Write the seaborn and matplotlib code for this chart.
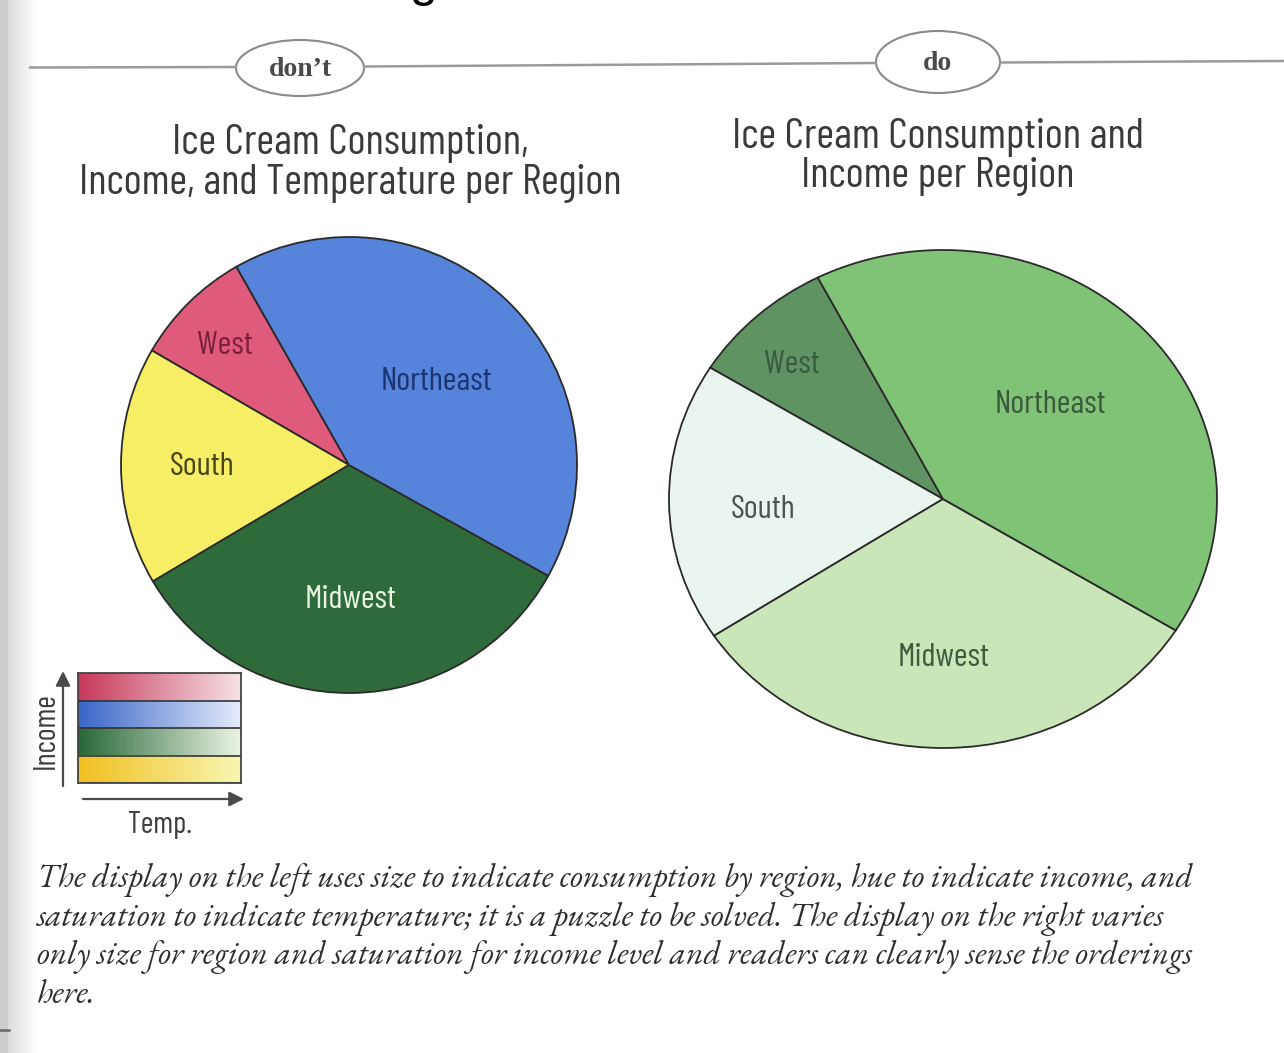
import numpy as np
import matplotlib
matplotlib.use("Agg")
import matplotlib.pyplot as plt
from matplotlib.patches import Ellipse
import seaborn as sns

sns.set_theme(style="white")

# ---- data ----
regions = ["West", "South", "Midwest", "Northeast"]
left_share = [8.4, 16.9, 33.4, 41.3]     # "don't" pie
right_share = [8.6, 18.1, 31.9, 41.4]    # "do" pie

left_colors = ["#e05a7c", "#f6ee64", "#2f6b3a", "#5584da"]
right_colors = ["#5f9462", "#eaf5ef", "#c9e6b8", "#80c276"]
left_text_colors = ["#7a2238", "#4a4418", "#e6f4e2", "#1d3470"]
right_text_colors = ["#3a5a40", "#4a5452", "#3c5c40", "#3a5a3c"]

left_title = ["Ice Cream Consumption,", "Income, and Temperature per Region"]
right_title = ["Ice Cream Consumption and", "Income per Region"]

# colour key: saturated (cold) -> washed out (hot), top row first
key_rows = ["West", "Northeast", "Midwest", "South"]
key_start = ["#c8385a", "#3a66c8", "#2a6836", "#f0c020"]
key_end = ["#f6e2e6", "#e4ecfa", "#eaf4e4", "#f8f6b0"]

caption_lines = [
    "The display on the left uses size to indicate consumption by region, hue to indicate income, and",
    "saturation to indicate temperature; it is a puzzle to be solved. The display on the right varies",
    "only size for region and saturation for income level and readers can clearly sense the orderings",
    "here.",
]

NARROW = ["Barlow Condensed", "Roboto Condensed", "DejaVu Sans"]
SERIF_IT = ["EB Garamond", "Liberation Serif", "DejaVu Serif"]
W, H = 1284, 1053


def fx(x):
    return x / W


def fy(y):
    return 1 - y / H


def rect(x0, y0, x1, y1):
    return [fx(x0), fy(y1), (x1 - x0) / W, (y1 - y0) / H]


fig = plt.figure(figsize=(W / 100, H / 100), dpi=100)
fig.patch.set_facecolor("white")

# scanned page gutter on the left
bg = fig.add_axes([0, 0, 1, 1], zorder=-5)
bg.set_axis_off()
grad = np.ones((2, W))
grad[:, :8] = 0.80
grad[:, 8:38] = np.linspace(0.86, 1.0, 30)
bg.imshow(grad, cmap="gray", vmin=0, vmax=1, aspect="auto", extent=[0, 1, 0, 1])
bg.set_xlim(0, 1)
bg.set_ylim(0, 1)
bg.plot([0, fx(9)], [fy(1030), fy(1030)], color="#707070", lw=2)

# header rule with the two tags
bg.plot([fx(30), fx(236)], [fy(67.5), fy(67)], color="#9a9a9a", lw=1.8)
bg.plot([fx(364), fx(876)], [fy(66.5), fy(63)], color="#9a9a9a", lw=1.8)
bg.plot([fx(1000), 1.0], [fy(62.5), fy(61)], color="#9a9a9a", lw=1.8)
for cx, cy, w, h, word in [(300, 68, 128, 56, "don\u2019t"), (938, 62, 124, 62, "do")]:
    bg.add_patch(Ellipse((fx(cx), fy(cy)), w / W, h / H, fill=False,
                         edgecolor="#8a8a8a", lw=1.5))
    bg.text(fx(cx), fy(cy + 1), word, ha="center", va="center", fontsize=20,
            fontweight="bold", family=["Liberation Serif", "DejaVu Serif"], color="#4a4a4a")

# clipped letter from the line above
bg.text(fx(424), fy(-4), "g", ha="center", va="baseline", fontsize=36,
        family=["Liberation Sans", "DejaVu Sans"], color="black", clip_on=False)

# titles, one line at a time (baselines)
for line, base in zip(left_title, [154, 194]):
    fig.text(fx(350), fy(base), line, ha="center", va="baseline", fontsize=31,
             family=NARROW, color="#3a3a3a")
for line, base in zip(right_title, [148, 187]):
    fig.text(fx(938), fy(base), line, ha="center", va="baseline", fontsize=31,
             family=NARROW, color="#3a3a3a")


def draw_pie(center, rx, ry, share, colors, start):
    cx, cy = center
    pad = 1.02
    ax = fig.add_axes(rect(cx - rx * pad, cy - ry * pad, cx + rx * pad, cy + ry * pad))
    ax.pie(share, colors=colors, startangle=start, counterclock=True,
           wedgeprops=dict(edgecolor="#2a2a2a", linewidth=1.3))
    ax.set_aspect("auto")
    ax.set_xlim(-pad, pad)
    ax.set_ylim(-pad, pad)
    ax.set_axis_off()
    return ax


draw_pie((349, 465), 228, 228, left_share, left_colors, 119.6)
draw_pie((943, 499), 274, 249, right_share, right_colors, 117.2)

left_label_xy = [(225, 346), (202, 467), (351, 600), (436, 382)]
right_label_xy = [(792, 365), (763, 510), (944, 658), (1050, 405)]
for (x, y), name, c in zip(left_label_xy, regions, left_text_colors):
    fig.text(fx(x), fy(y), name, ha="center", va="center", fontsize=24,
             family=NARROW, color=c)
for (x, y), name, c in zip(right_label_xy, regions, right_text_colors):
    fig.text(fx(x), fy(y), name, ha="center", va="center", fontsize=24,
             family=NARROW, color=c)

# colour key
kax = fig.add_axes(rect(78, 673, 241, 783))
n = 200
for i, (c0, c1) in enumerate(zip(key_start, key_end)):
    pal = sns.blend_palette([c0, c1], n_colors=n)
    strip = np.array(pal)[None, :, :]
    y0 = len(key_rows) - 1 - i
    kax.imshow(strip, aspect="auto", extent=[0, 1, y0, y0 + 1])
    kax.axhline(y0, color="#333333", lw=1.2)
kax.set_xlim(0, 1)
kax.set_ylim(0, len(key_rows))
kax.set_xticks([])
kax.set_yticks([])
for s in kax.spines.values():
    s.set_color("#444444")
    s.set_linewidth(1.3)

bg.annotate("", xy=(fx(63), fy(671)), xytext=(fx(63), fy(786)),
            arrowprops=dict(arrowstyle="-|>", color="#4a4a4a", lw=1.6,
                            mutation_scale=22, shrinkA=0, shrinkB=0))
bg.annotate("", xy=(fx(244), fy(799)), xytext=(fx(83), fy(799)),
            arrowprops=dict(arrowstyle="-|>", color="#4a4a4a", lw=1.6,
                            mutation_scale=22, shrinkA=0, shrinkB=0))
fig.text(fx(46), fy(731), "Income", rotation=90, ha="center", va="center",
         fontsize=22, family=NARROW, color="#3c3c3c")
fig.text(fx(160), fy(825), "Temp.", ha="center", va="center",
         fontsize=22, family=NARROW, color="#3c3c3c")

# caption
for i, line in enumerate(caption_lines):
    fig.text(fx(37), fy(887 + i * 38.7), line, ha="left", va="baseline",
             fontsize=24, style="italic", family=SERIF_IT, color="#2e2e2e")

fig.savefig("out.png", dpi=100)
